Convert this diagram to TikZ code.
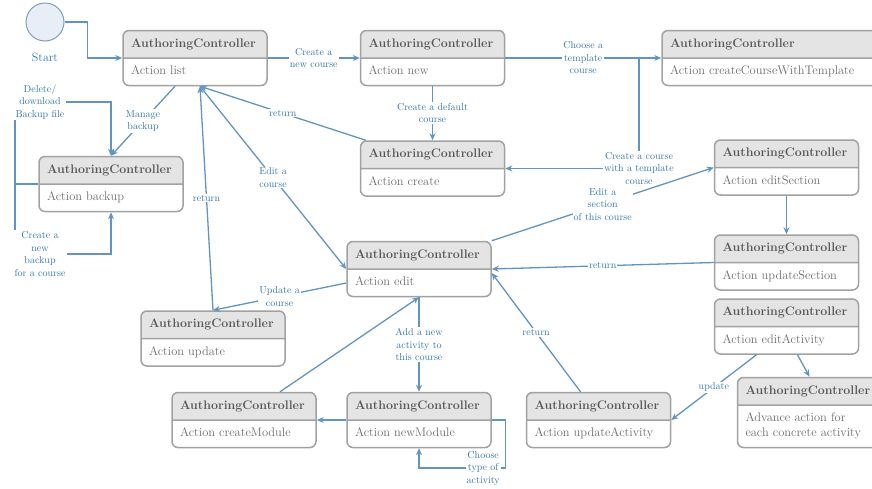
\documentclass[tikz,border=0pt]{standalone}
\usetikzlibrary{shapes.multipart, arrows.meta}

\definecolor{lineblue}{RGB}{98,148,192}
\definecolor{labelblue}{RGB}{52,118,172}
\definecolor{boxgray}{RGB}{162,162,162}
\definecolor{headgray}{RGB}{228,228,228}
\definecolor{headtext}{RGB}{88,88,88}
\definecolor{bodytext}{RGB}{108,108,108}
\definecolor{startfill}{RGB}{232,238,247}
\definecolor{startline}{RGB}{128,156,190}

\newcommand{\ctrlhead}{\centering\strut\textbf{\color{headtext}AuthoringController}}

\tikzset{
  ctrl/.style={rectangle split, rectangle split parts=2, draw=boxgray, line width=1.5pt,
    rounded corners=6pt, rectangle split part fill={headgray, white}, text width=128pt,
    inner xsep=8pt, inner ysep=5.5pt, align=left, text=bodytext,
    font=\fontsize{12.4}{15}\selectfont},
  lbl/.style={fill=white, text=labelblue, font=\fontsize{10}{12.5}\selectfont, align=center, inner sep=1pt},
  flow/.style={draw=lineblue, line width=1.3pt, -{Stealth[length=7pt, width=6pt]}},
  link/.style={draw=lineblue, line width=1.3pt},
}

\begin{document}
\begin{tikzpicture}[x=1pt, y=-1pt]

\path[use as bounding box] (0, 0) rectangle (872, 488);
\clip (0, 0) rectangle (872, 488);

\draw (45, 22) node [circle, draw=startline, fill=startfill, line width=1pt, minimum size=38pt] (start) {};
\draw (45, 57) node [text=labelblue, font=\fontsize{12}{14}\selectfont] (startlbl) {Start};

\draw (195, 58) node [ctrl] (list) {\ctrlhead\nodepart{two}\strut Action list};

\draw (432.5, 58) node [ctrl] (new) {\ctrlhead\nodepart{two}\strut Action new};

\draw (771, 58) node [ctrl, text width=202pt] (template) {\ctrlhead\nodepart{two}\strut Action createCourseWithTemplate};

\draw (111, 184) node [ctrl] (backup) {\ctrlhead\nodepart{two}\strut Action backup};

\draw (432.5, 168.5) node [ctrl] (create) {\ctrlhead\nodepart{two}\strut Action create};

\draw (786.5, 167.5) node [ctrl] (editSection) {\ctrlhead\nodepart{two}\strut Action editSection};

\draw (419, 269) node [ctrl] (edit) {\ctrlhead\nodepart{two}\strut Action edit};

\draw (786.5, 262.5) node [ctrl] (updateSection) {\ctrlhead\nodepart{two}\strut Action updateSection};

\draw (213, 338.5) node [ctrl] (update) {\ctrlhead\nodepart{two}\strut Action update};

\draw (786.5, 326.5) node [ctrl] (editActivity) {\ctrlhead\nodepart{two}\strut Action editActivity};

\draw (244, 420) node [ctrl] (createModule) {\ctrlhead\nodepart{two}\strut Action createModule};

\draw (419, 420) node [ctrl] (newModule) {\ctrlhead\nodepart{two}\strut Action newModule};

\draw (598.5, 420) node [ctrl] (updateActivity) {\ctrlhead\nodepart{two}\strut Action updateActivity};

\draw (809.5, 412.5) node [ctrl] (advance) {\ctrlhead\nodepart{two}\strut Advance action for\\\strut each concrete activity};

% labels that stand at the free ends of the backup loops
\draw (40, 102) node [lbl] (lbldel) {Delete/\\download\\Backup file};

\draw (40, 254) node [lbl] (lblnew) {Create a\\new\\backup\\for a course};

\coordinate (tjoin) at (639, 58);
\coordinate (bkleft) at (15, 184);

% connectors
\draw[flow] (start.east) -- ++(23, 0) |- (list.west);

\draw[flow] (list.east) -- node [lbl] {Create a\\new course} (new.west);

\draw[flow] (new.east) -- node [lbl] {Choose a\\template\\course} (template.west);

\draw[flow] (tjoin) |- node [lbl] {Create a course\\with a template\\course} (create.east);

\draw[flow] (new.south) -- node [lbl] {Create a default\\course} (create.north);

\draw[flow] ([xshift=6pt]create.north west) -- node [lbl] {return} ([xshift=5pt]list.south);

\draw[flow] ([xshift=-20pt]list.south) -- node [lbl] {Manage\\backup} (backup.north);

\draw[flow] (lbldel.east) -| (backup.north);

\draw[link] (backup.west) -- (bkleft) -- (bkleft |- lbldel.south);

\draw[link] (bkleft) -- (bkleft |- lblnew.north);

\draw[flow] (lblnew.east) -| (backup.south);

\draw[flow] (update.north) -- node [lbl] {return} ([xshift=5pt]list.south);

\draw[flow] ([xshift=5pt]list.south) -- node [lbl] {Edit a\\course} (edit.west);

\draw[flow] ([yshift=-14pt]edit.west) -- node [lbl] {Update a\\course} (update.north);

\draw[flow] (edit.north east) -- node [lbl] {Edit a\\section\\of this course} (editSection.west);

\draw[flow] (editSection.south) -- (updateSection.north);

\draw[flow] (updateSection.west) -- node [lbl] {return} (edit.east);

\draw[flow] ([xshift=-18pt]updateActivity.north) -- node [lbl] {return} ([yshift=-4pt]edit.east);

\draw[flow] (edit.south) -- node [lbl] {Add a new\\activity to\\this course} (newModule.north);

\draw[flow] ([xshift=36pt]createModule.north) -- (edit.south);

\draw[flow] (newModule.west) -- (createModule.east);

\draw[flow] (newModule.east) -- ++(14, 0) -- ++(0, 48) -| node [lbl, pos=0.13] {Choose\\type of\\activity} (newModule.south);

\draw[flow] ([xshift=-30pt]editActivity.south) -- node [lbl] {update} (updateActivity.east);

\draw[flow] ([xshift=11pt]editActivity.south) -- (advance.north);

\end{tikzpicture}
\end{document}
